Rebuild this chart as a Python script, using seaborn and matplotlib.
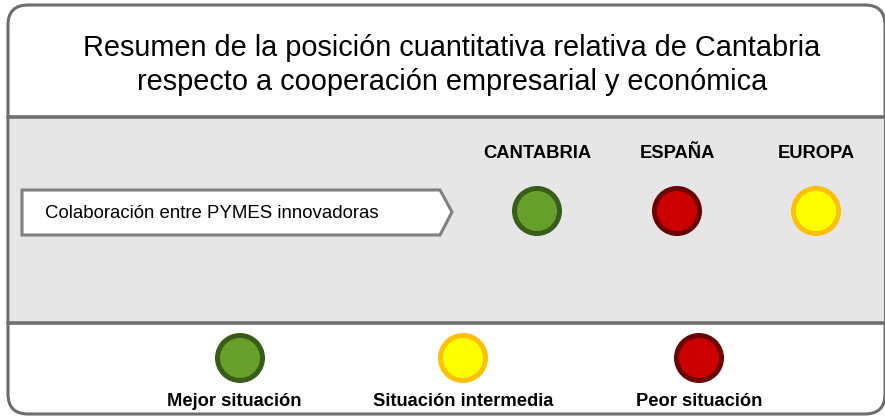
import matplotlib.pyplot as plt
import seaborn as sns
import pandas as pd
from matplotlib.patches import FancyBboxPatch, Rectangle, Polygon

# data
title_lines = ["Resumen de la posición cuantitativa relativa de Cantabria",
               "respecto a cooperación empresarial y económica"]
regions = ["CANTABRIA", "ESPAÑA", "EUROPA"]
indicator = "Colaboración entre PYMES innovadoras"
region_status = ["Mejor situación", "Peor situación", "Situación intermedia"]
legend_labels = ["Mejor situación", "Situación intermedia", "Peor situación"]

# styles
fills = {"Mejor situación": "#66a02a",
         "Situación intermedia": "#ffff00",
         "Peor situación": "#cc0000"}
edges = {"Mejor situación": "#385d1a",
         "Situación intermedia": "#ffc000",
         "Peor situación": "#6b0000"}

# layout (pixels)
col_x = [537, 677, 816]
row_y = 211
leg_x = [240, 463, 699]
leg_y = 358
border = "#6d6d6d"

sns.set_style("white")
plt.rcParams['font.family'] = ['Liberation Sans', 'DejaVu Sans']
plt.rcParams['text.color'] = 'black'

fig = plt.figure(figsize=(8.85, 4.17), dpi=100)
ax = fig.add_axes([0, 0, 1, 1])

# frame
ax.add_patch(FancyBboxPatch((8, 5), 877, 409,
                            boxstyle="round,pad=0,rounding_size=20",
                            fc="white", ec=border, lw=2.2, zorder=0))
ax.add_patch(Rectangle((9.5, 117), 874, 206, fc="#e6e6e6", ec="none", zorder=0.5))
ax.plot([8, 885], [117, 117], color=border, lw=2.6, zorder=1)
ax.plot([8, 885], [323, 323], color=border, lw=2.6, zorder=1)

ax.text(452, 48, title_lines[0], ha="center", va="center", fontsize=20.8)
ax.text(452, 82, title_lines[1], ha="center", va="center", fontsize=20.8)

# indicator arrow box
ax.add_patch(Polygon([(22, 190), (440, 190), (452, 212), (440, 235), (22, 235)],
                     closed=True, fc="white", ec="#808080", lw=2.2, zorder=1))
ax.text(45, 213, indicator, ha="left", va="center", fontsize=13.4)

# region headers and circles
for x, name in zip(col_x, regions):
    ax.text(x, 153, name, ha="center", va="center", fontsize=13.2, fontweight="bold")

df = pd.DataFrame({"x": col_x, "y": [row_y] * len(col_x), "status": region_status})
sns.scatterplot(data=df, x="x", y="y", hue="status", palette=fills, s=1050,
                linewidth=3.6, legend=False, ax=ax, zorder=3)
ax.collections[-1].set_edgecolor([edges[s] for s in df["status"]])

# legend
leg = pd.DataFrame({"x": leg_x, "y": [leg_y] * len(leg_x), "status": legend_labels})
sns.scatterplot(data=leg, x="x", y="y", hue="status", palette=fills, s=1050,
                linewidth=3.6, legend=False, ax=ax, zorder=3)
ax.collections[-1].set_edgecolor([edges[s] for s in leg["status"]])
for x, lab in zip(leg_x, legend_labels):
    ax.text(x - 6 if lab == "Mejor situación" else x, 401, lab, ha="center", va="center",
            fontsize=13.2, fontweight="bold")

ax.set_xlim(0, 885)
ax.set_ylim(417, 0)
ax.axis("off")

fig.savefig("out.png", dpi=100)
